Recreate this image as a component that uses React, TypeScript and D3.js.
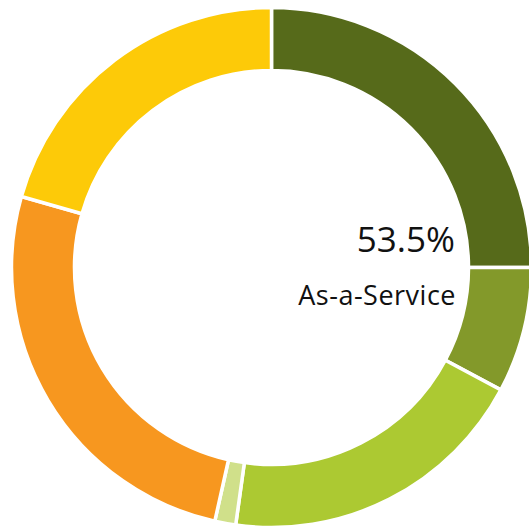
import React from "react";
import * as d3 from "d3";

const categories = ["Segment A", "Segment B", "Segment C", "Segment D", "Segment E", "Segment F"];
const values = [25.0, 7.8, 19.4, 1.3, 25.9, 20.6];
const colors = ["#566a1a", "#83992a", "#acc932", "#d0e08a", "#f7971f", "#fdca08"];
const centerValue = "53.5%";
const centerLabel = "As-a-Service";

export default function App() {
  const width = 529;
  const height = 527;
  const cx = 271.5;
  const cy = 267.5;
  const outer = 260;
  const inner = 197;
  const pie = d3.pie<number>().sort(null).value((d) => d);
  const arcs = pie(values);
  const arc = d3.arc<d3.PieArcDatum<number>>().innerRadius(inner).outerRadius(outer);
  return (
    <svg
      width={width}
      height={height}
      style={{ position: "absolute", left: 0, top: 0, display: "block" }}
    >
      <rect width={width} height={height} fill="#fff" />
      <g transform={`translate(${cx},${cy})`}>
        {arcs.map((a, i) => (
          <path key={categories[i]} d={arc(a) || ""} fill={colors[i]} stroke="#fff" strokeWidth={3.5} />
        ))}
      </g>
      <text x={455} y={252} textAnchor="end" fontFamily="'Open Sans', sans-serif" fontSize={35} fill="#111">
        {centerValue}
      </text>
      <text x={456} y={305} textAnchor="end" fontFamily="'Open Sans', sans-serif" fontSize={27} letterSpacing={0.5} fill="#111">
        {centerLabel}
      </text>
    </svg>
  );
}
